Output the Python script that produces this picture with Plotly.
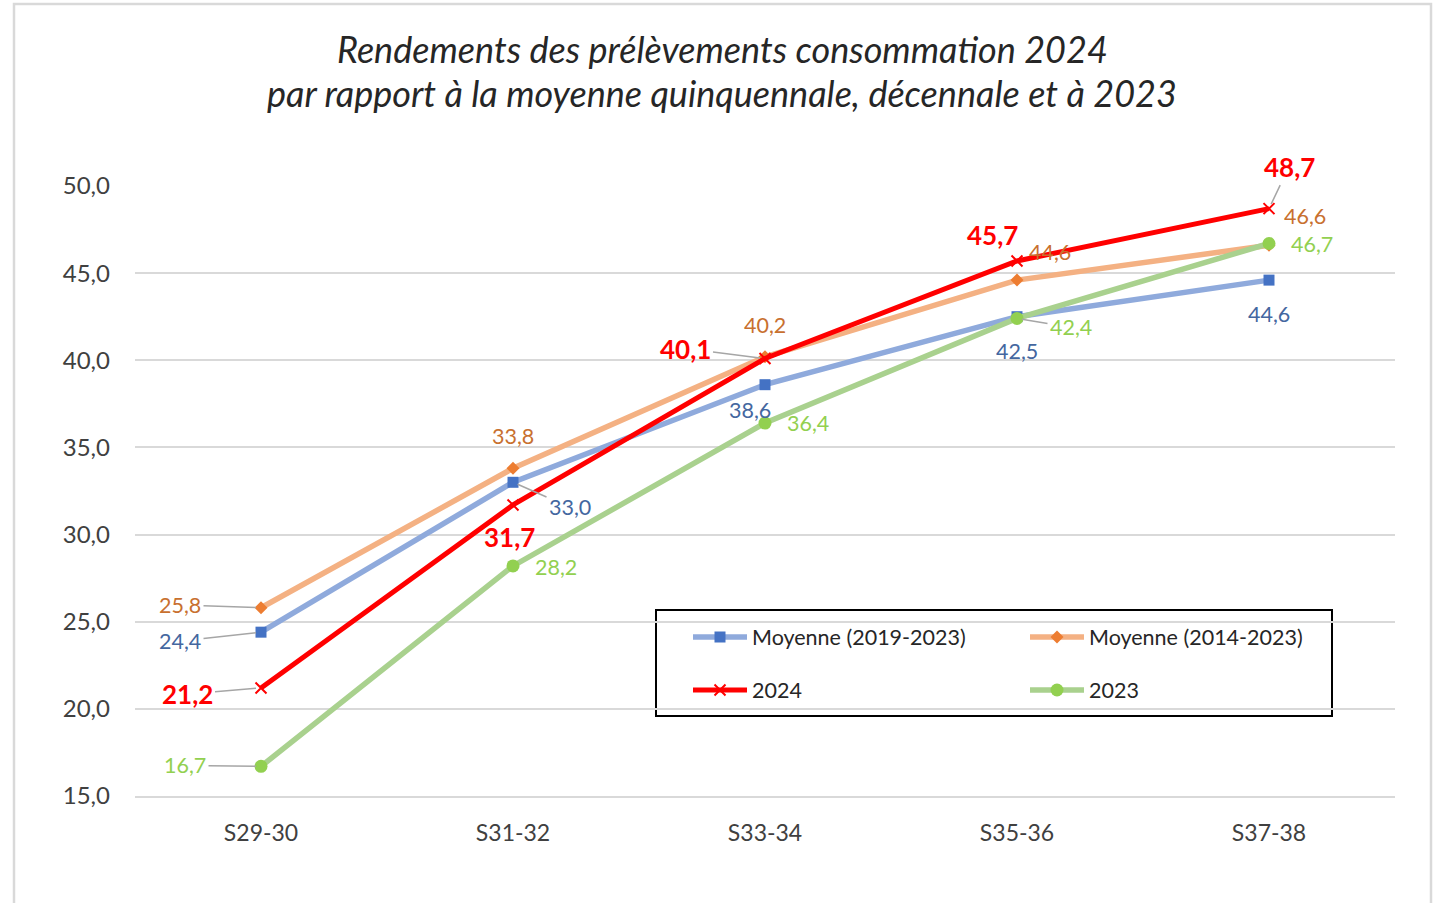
import plotly.graph_objects as go

categories = ["S29-30", "S31-32", "S33-34", "S35-36", "S37-38"]
moy_2019_2023 = [24.4, 33.0, 38.6, 42.5, 44.6]
moy_2014_2023 = [25.8, 33.8, 40.2, 44.6, 46.6]
y2024 = [21.2, 31.7, 40.1, 45.7, 48.7]
y2023 = [16.7, 28.2, 36.4, 42.4, 46.7]
series_names = ["Moyenne (2019-2023)", "Moyenne (2014-2023)", "2024", "2023"]
y_tick_vals = [15, 20, 25, 30, 35, 40, 45, 50]
y_tick_text = ["15,0", "20,0", "25,0", "30,0", "35,0", "40,0", "45,0", "50,0"]
title_lines = ["Rendements des prélèvements consommation 2024",
               "par rapport à la moyenne quinquennale, décennale et à 2023"]

FONT = "Lato"

styles = [
    dict(line="#8FAADC", marker="#4472C4", symbol="square", msize=11, label="#44679F", lsize=21.5, bold=False, legend="legend"),
    dict(line="#F4B183", marker="#ED7D31", symbol="diamond", msize=10, label="#C8702F", lsize=21.5, bold=False, legend="legend"),
    dict(line="#FF0000", marker="#FF0000", symbol="x-thin", msize=11, label="#FF0000", lsize=26, bold=True, legend="legend2"),
    dict(line="#A9D18E", marker="#92D050", symbol="circle", msize=13, label="#92D050", lsize=21.5, bold=False, legend="legend2"),
]

# label offsets in pixels (dx right, dy down) and whether a leader line is drawn
offsets = [
    [(-81, 9, True), (57, 25, True), (-15, 25, False), (0, 34, False), (0, 34, False)],
    [(-81, -3, True), (0, -32, False), (0, -32, False), (33, -28, False), (36, -29, False)],
    [(-74, 6, True), (-4, 32, False), (-80, -10, True), (-25, -26, False), (20, -42, True)],
    [(-76, -1, True), (43, 1, False), (43, 0, False), (54, 9, True), (43, 0, False)],
]

all_series = [moy_2019_2023, moy_2014_2023, y2024, y2023]

L, R, T, B = 135, 42, 186, 107
W, H = 1437, 903
pw, ph = W - L - R, H - T - B


def px_x(x):
    return (x - L) / pw


def px_y(y):
    return (H - B - y) / ph


fig = go.Figure()
annotations = []
for name, vals, st, offs in zip(series_names, all_series, styles, offsets):
    fig.add_trace(go.Scatter(
        x=categories, y=vals, name=name, mode="lines+markers",
        line=dict(color=st["line"], width=5.5 if name != "2024" else 5),
        marker=dict(color=st["marker"], symbol=st["symbol"], size=st["msize"],
                    line=dict(color=st["marker"], width=2 if st["symbol"] == "x-thin" else 0)),
        legend=st["legend"], cliponaxis=False,
    ))
    for c, v, (dx, dy, lead) in zip(categories, vals, offs):
        txt = f"{v:.1f}".replace(".", ",")
        if st["bold"]:
            txt = f"<b>{txt}</b>"
        font = dict(family=FONT, size=st["lsize"], color=st["label"])
        if lead:
            annotations.append(dict(x=c, y=v, xref="x", yref="y", text=txt, font=font,
                                    showarrow=True, ax=dx, ay=dy, axref="pixel", ayref="pixel",
                                    arrowhead=0, arrowwidth=1.5, arrowcolor="#A6A6A6",
                                    standoff=5, borderpad=2))
        else:
            annotations.append(dict(x=c, y=v, xref="x", yref="y", text=txt, font=font,
                                    showarrow=False, xshift=dx, yshift=-dy))

for line_txt, ypix in zip(title_lines, [49, 93]):
    annotations.append(dict(x=px_x(722), y=px_y(ypix), xref="paper", yref="paper",
                            xanchor="center", yanchor="middle", showarrow=False,
                            text=line_txt,
                            font=dict(family=FONT, size=36, color="#262626", style="italic")))

shapes = [
    # legend box
    dict(type="rect", xref="paper", yref="paper", x0=px_x(656), x1=px_x(1332),
         y0=px_y(716), y1=px_y(610), line=dict(color="black", width=2), fillcolor="white", layer="below"),
    # chart outer border
    dict(type="rect", xref="paper", yref="paper", x0=px_x(14), x1=px_x(1431),
         y0=px_y(920), y1=px_y(4), line=dict(color="#D9D9D9", width=2.5), layer="below"),
]

legend_common = dict(orientation="h", xanchor="left", yanchor="middle",
                     font=dict(family=FONT, size=21.5, color="#262626"),
                     bgcolor="rgba(0,0,0,0)", borderwidth=0,
                     entrywidth=268, entrywidthmode="pixels", itemwidth=54)

fig.update_layout(
    width=W, height=H,
    margin=dict(l=L, r=R, t=T, b=B, autoexpand=False),
    paper_bgcolor="white", plot_bgcolor="white",
    xaxis=dict(type="category", range=[-0.5, 4.5], showgrid=False, showline=True,
               linecolor="#D9D9D9", linewidth=1.5, ticks="", ticklabelstandoff=16,
               tickfont=dict(family=FONT, size=23, color="#404040"), zeroline=False),
    yaxis=dict(range=[15, 50], tickvals=y_tick_vals, ticktext=y_tick_text,
               showgrid=True, gridcolor="#D9D9D9", gridwidth=1.5, zeroline=False,
               showline=False, ticks="", ticklabelstandoff=24,
               tickfont=dict(family=FONT, size=24, color="#404040")),
    legend=dict(x=px_x(688), y=px_y(637), **legend_common),
    legend2=dict(x=px_x(688), y=px_y(690), **legend_common),
    annotations=annotations,
    shapes=shapes,
    showlegend=True,
)

fig.write_html("out.html", config={"displayModeBar": False},
               post_script="document.body.style.margin='0px';")
